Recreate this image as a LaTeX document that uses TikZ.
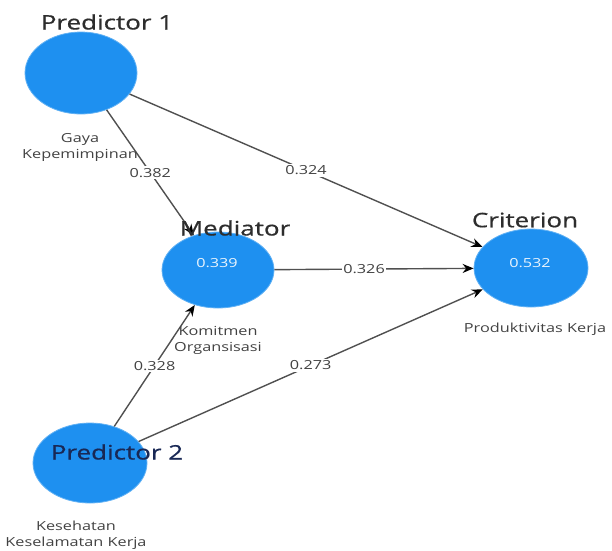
\documentclass[tikz,border=0pt]{standalone}
\usepackage{fontspec}
\setmainfont[FakeStretch=1.3]{Open Sans}
\newfontfamily\titlefont[FakeStretch=1.3,FakeBold=0.6]{Open Sans}
\usetikzlibrary{shapes.geometric,arrows.meta}
\definecolor{latentblue}{RGB}{30,144,240}
\definecolor{edgegray}{RGB}{80,80,80}
\definecolor{titlegray}{RGB}{45,45,45}
\definecolor{navytext}{RGB}{25,40,85}
\tikzset{
  latent/.style={ellipse, fill=latentblue, draw=latentblue!70!white, line width=0.8pt, inner sep=0pt},
  title/.style={font=\titlefont\fontsize{20}{22}\selectfont, text=titlegray, inner sep=0pt},
  caption/.style={font=\fontsize{12.5}{16}\selectfont, text=titlegray!90, align=center, inner sep=0pt},
  rsq/.style={font=\fontsize{12.5}{14}\selectfont, text=white!90!latentblue, inner sep=0pt},
  path/.style={draw=edgegray, line width=1.4pt, -{Stealth[length=11pt,width=9pt,black]}},
  coef/.style={fill=white, font=\fontsize{12.5}{14}\selectfont, text=titlegray!90, inner sep=1.5pt}
}
\begin{document}
\begin{tikzpicture}[x=1pt,y=-1pt]
  \useasboundingbox (0,0) rectangle (612,550);
  % latent variables
  \node[latent, minimum width=112pt, minimum height=82pt] (p1) at (81,73) {};
  \node[latent, minimum width=112pt, minimum height=76pt] (med) at (218,270) {};
  \node[latent, minimum width=114pt, minimum height=78pt] (crit) at (531,268) {};
  \node[latent, minimum width=114pt, minimum height=80pt] (p2) at (90,463) {};
  % structural paths with coefficients
  \draw[path] (p1) -- node[coef] (c1) {0.382} (med);
  \draw[path] (p1) -- node[coef] (c2) {0.324} (crit);
  \draw[path] (med) -- node[coef, pos=0.45] (c3) {0.326} (crit);
  \draw[path] (p2) -- node[coef] (c4) {0.328} (med);
  \draw[path] (p2) -- node[coef] (c5) {0.273} (crit);
  % role titles
  \node[title] (t1) at (107,22) {Predictor 1};
  \node[title] (t2) at (235,228) {Mediator};
  \node[title] (t3) at (525,220) {Criterion};
  \node[title, text=navytext] (t4) at (117,452) {Predictor 2};
  % R-square values
  \node[rsq] (r1) at (217,263) {0.339};
  \node[rsq] (r2) at (530,263) {0.532};
  % construct names
  \node[caption] (n1) at (80,147) {Gaya\\Kepemimpinan};
  \node[caption] (n2) at (218,340) {Komitmen\\Organsisasi};
  \node[caption] (n3) at (535,329) {Produktivitas Kerja};
  \node[caption] (n4) at (76,535) {Kesehatan\\Keselamatan Kerja};
\end{tikzpicture}
\end{document}
